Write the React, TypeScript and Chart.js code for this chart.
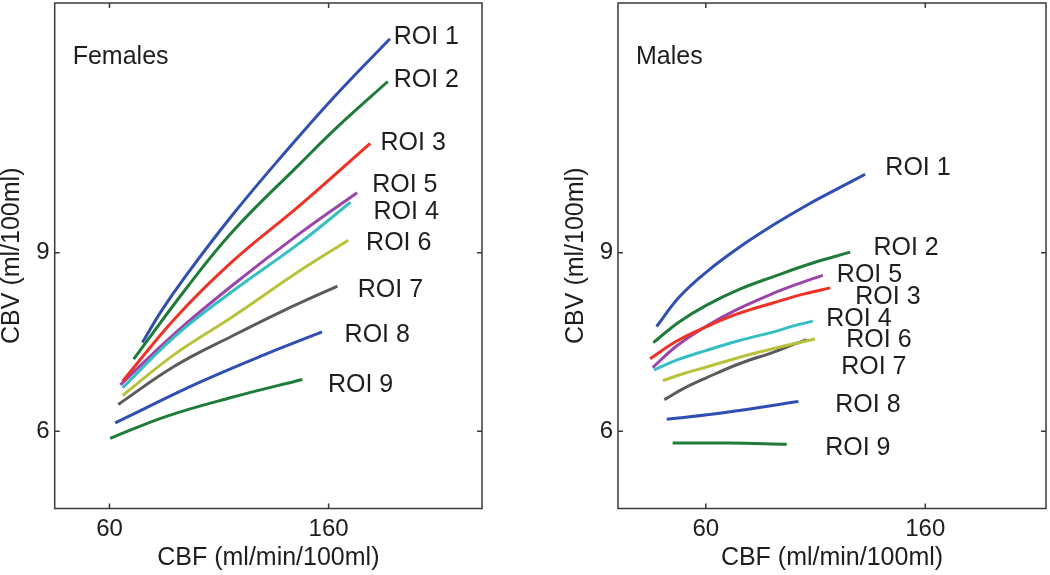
import React, { useEffect, useRef } from 'react';
import { Chart, registerables } from 'chart.js';

Chart.register(...registerables);

// ---------- data ----------
const roiNames = ['ROI 1', 'ROI 2', 'ROI 3', 'ROI 4', 'ROI 5', 'ROI 6', 'ROI 7', 'ROI 8', 'ROI 9'];
const roiColors = ['#2f4fb3', '#1f7c38', '#ee3326', '#35bfc4', '#9b45aa', '#b9c23d', '#5b5b5b', '#2f4fb3', '#1f7c38'];

const xTicks = [60, 160];
const yTicks = [6, 9];

// Females: [CBF, CBV]
const femaleROI1 = [[75, 7.49], [84, 8.04], [95, 8.62], [116, 9.63], [139, 10.64], [162, 11.6], [188, 12.6]];
const femaleROI2 = [[71, 7.21], [95, 8.4], [116, 9.35], [147, 10.5], [165, 11.15], [187, 11.88]];
const femaleROI3 = [[66, 6.84], [90, 7.9], [116, 8.85], [147, 9.8], [179, 10.84]];
const femaleROI4 = [[66, 6.73], [90, 7.6], [116, 8.35], [147, 9.17], [170, 9.85]];
const femaleROI5 = [[65, 6.78], [90, 7.65], [116, 8.45], [147, 9.33], [173, 10.01]];
const femaleROI6 = [[66, 6.6], [90, 7.3], [116, 7.92], [147, 8.7], [169, 9.21]];
const femaleROI7 = [[64, 6.45], [90, 7.1], [116, 7.6], [139, 8.02], [164, 8.44]];
const femaleROI8 = [[62.6, 6.14], [101, 6.82], [131.6, 7.3], [157, 7.67]];
const femaleROI9 = [[60.3, 5.88], [86, 6.25], [116, 6.57], [148, 6.87]];

// Males: [CBF, CBV]
const maleROI1 = [[37.6, 7.76], [48, 8.26], [60.4, 8.68], [75.6, 9.1], [90.9, 9.47], [106, 9.8], [121.2, 10.1], [132.6, 10.32]];
const maleROI2 = [[36.1, 7.49], [48, 7.84], [60.4, 8.12], [75, 8.38], [90.9, 8.6], [108, 8.82], [125.8, 9.01]];
const maleROI3 = [[34.6, 7.22], [47, 7.52], [60.4, 7.76], [75, 7.98], [90.9, 8.16], [104, 8.3], [116.7, 8.41]];
const maleROI4 = [[36.4, 7.03], [47, 7.2], [60.4, 7.36], [75, 7.52], [90.9, 7.67], [100, 7.77], [108.8, 7.85]];
const maleROI5 = [[35.8, 7.07], [47, 7.44], [60.4, 7.77], [75, 8.06], [90.9, 8.32], [103, 8.49], [113.3, 8.62]];
const maleROI6 = [[40.4, 6.85], [50, 6.97], [60.4, 7.08], [75, 7.24], [90.9, 7.39], [100, 7.47], [109.8, 7.55]];
const maleROI7 = [[41.1, 6.53], [50, 6.72], [60.4, 6.9], [75, 7.13], [90.9, 7.33], [100, 7.46], [106, 7.54]];
const maleROI8 = [[42.2, 6.2], [68, 6.31], [102.2, 6.5]];
const maleROI9 = [[44.9, 5.8], [70, 5.8], [96.9, 5.78]];

// label anchors (data coordinates), ROI 1..9
const femaleLabelX = [189.7, 189.7, 183.7, 180.5, 179.9, 177.1, 173.3, 167.3, 159.7];
const femaleLabelY = [12.63, 11.9, 10.84, 9.68, 10.13, 9.16, 8.38, 7.61, 6.78];
const maleLabelX = [141.8, 136.4, 128.1, 114.9, 119.7, 124.0, 121.7, 119.0, 114.4];
const maleLabelY = [10.42, 9.08, 8.26, 7.89, 8.62, 7.53, 7.08, 6.44, 5.71];

const femaleSeries = [femaleROI1, femaleROI2, femaleROI3, femaleROI4, femaleROI5, femaleROI6, femaleROI7, femaleROI8, femaleROI9];
const maleSeries = [maleROI1, maleROI2, maleROI3, maleROI4, maleROI5, maleROI6, maleROI7, maleROI8, maleROI9];

// ---------- styling ----------
const FONT = 'Arial, "Liberation Sans", Helvetica, sans-serif';
const TEXT = '#1e1e1e';
const FRAME = '#3a3a3a';

function makeDecor(title: string, labelX: number[], labelY: number[]) {
  return {
    id: 'decor',
    afterDraw(chart: any) {
      const { ctx, chartArea: a, scales } = chart;
      const xs = scales.x;
      const ys = scales.y;
      ctx.save();
      ctx.strokeStyle = FRAME;
      ctx.lineWidth = 1.5;
      ctx.strokeRect(a.left, a.top, a.right - a.left, a.bottom - a.top);
      ctx.beginPath();
      xTicks.forEach((v) => {
        const p = xs.getPixelForValue(v);
        ctx.moveTo(p, a.bottom);
        ctx.lineTo(p, a.bottom - 5);
        ctx.moveTo(p, a.top);
        ctx.lineTo(p, a.top + 5);
      });
      yTicks.forEach((v) => {
        const p = ys.getPixelForValue(v);
        ctx.moveTo(a.left, p);
        ctx.lineTo(a.left + 5, p);
        ctx.moveTo(a.right, p);
        ctx.lineTo(a.right - 5, p);
      });
      ctx.stroke();
      ctx.fillStyle = TEXT;
      ctx.font = `25px ${FONT}`;
      ctx.textBaseline = 'middle';
      ctx.textAlign = 'left';
      ctx.fillText(title, a.left + 18, a.top + 54);
      roiNames.forEach((n, i) => {
        ctx.fillText(n, xs.getPixelForValue(labelX[i]), ys.getPixelForValue(labelY[i]));
      });
      ctx.restore();
    },
  };
}

function zeroPad(s: any) {
  s.paddingTop = 0;
  s.paddingBottom = 0;
  s.paddingLeft = 0;
  s.paddingRight = 0;
}

function buildConfig(
  series: number[][][],
  title: string,
  labelX: number[],
  labelY: number[],
  xMin: number,
  xMax: number,
  yWidth: number,
  padRight: number,
  yTitlePad: number
): any {
  return {
    type: 'scatter',
    data: {
      datasets: series.map((pts, i) => ({
        label: roiNames[i],
        data: pts.map(([x, y]) => ({ x, y })),
        showLine: true,
        borderColor: roiColors[i],
        backgroundColor: roiColors[i],
        borderWidth: 3,
        pointRadius: 0,
        pointHoverRadius: 0,
        tension: 0.4,
        borderCapStyle: 'butt',
      })),
    },
    options: {
      responsive: false,
      animation: false,
      events: [],
      layout: { autoPadding: false, padding: { top: 3, right: padRight, left: 0, bottom: 0 } },
      plugins: { legend: { display: false }, tooltip: { enabled: false } },
      scales: {
        x: {
          type: 'linear',
          min: xMin,
          max: xMax,
          afterBuildTicks: (s: any) => {
            s.ticks = xTicks.map((v) => ({ value: v }));
          },
          afterFit: (s: any) => {
            s.height = 66.5;
            zeroPad(s);
          },
          grid: { display: false, drawTicks: false },
          border: { display: false },
          ticks: { font: { size: 24, family: FONT }, color: TEXT, padding: 6, maxRotation: 0 },
          title: {
            display: true,
            text: 'CBF (ml/min/100ml)',
            font: { size: 25, family: FONT },
            color: TEXT,
            padding: { top: 0, bottom: 2 },
          },
        },
        y: {
          type: 'linear',
          min: 4.7,
          max: 13.2,
          afterBuildTicks: (s: any) => {
            s.ticks = yTicks.map((v) => ({ value: v }));
          },
          afterFit: (s: any) => {
            s.width = yWidth;
            zeroPad(s);
          },
          grid: { display: false, drawTicks: false },
          border: { display: false },
          ticks: { font: { size: 24, family: FONT }, color: TEXT, padding: 5 },
          title: {
            display: true,
            text: 'CBV (ml/100ml)',
            font: { size: 25, family: FONT },
            color: TEXT,
            padding: { top: yTitlePad, bottom: 0 },
          },
        },
      },
    },
    plugins: [makeDecor(title, labelX, labelY)],
  };
}

export default function App() {
  const leftRef = useRef<HTMLCanvasElement | null>(null);
  const rightRef = useRef<HTMLCanvasElement | null>(null);

  useEffect(() => {
    const c1 = new Chart(
      leftRef.current as HTMLCanvasElement,
      buildConfig(femaleSeries, 'Females', femaleLabelX, femaleLabelY, 35, 230, 54.7, 43, -3)
    );
    const c2 = new Chart(
      rightRef.current as HTMLCanvasElement,
      buildConfig(maleSeries, 'Males', maleLabelX, maleLabelY, 20, 215, 93, 4, 36)
    );
    return () => {
      c1.destroy();
      c2.destroy();
    };
  }, []);

  return (
    <div style={{ position: 'absolute', left: 0, top: 0, width: 1050, height: 575, background: '#ffffff', overflow: 'hidden' }}>
      <canvas ref={leftRef} width={525} height={575} style={{ position: 'absolute', left: 0, top: 0, width: 525, height: 575 }} />
      <canvas ref={rightRef} width={525} height={575} style={{ position: 'absolute', left: 525, top: 0, width: 525, height: 575 }} />
    </div>
  );
}
